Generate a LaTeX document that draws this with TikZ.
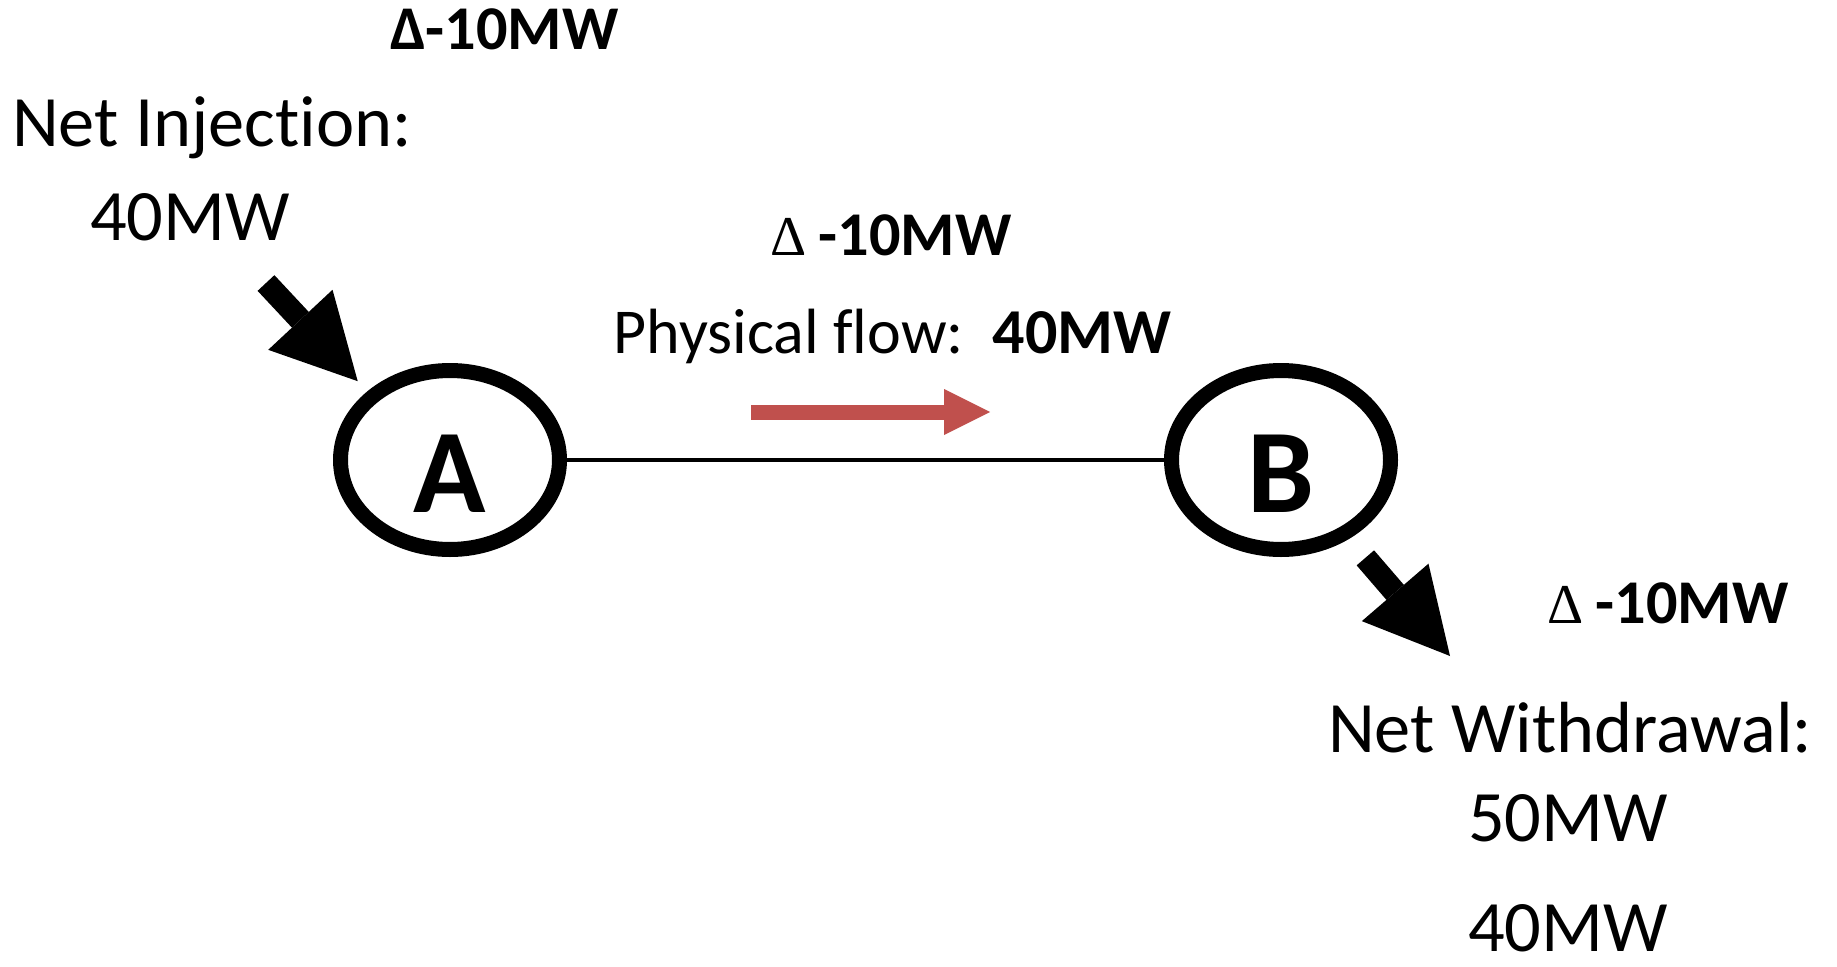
\documentclass[tikz,border=0pt]{standalone}
\usepackage{fontspec}
\setmainfont[Ligatures=NoCommon]{Carlito}
\newfontfamily\deltafont{Liberation Serif}
\usepackage{tikz}
\usetikzlibrary{arrows.meta,positioning,shapes.geometric}
\definecolor{flowred}{HTML}{C0504D}
\tikzset{
  busnode/.style={ellipse, draw, line width=1.5mm, minimum width=21.9mm,
    minimum height=17.9mm, inner sep=0pt, text height=10.4mm, text depth=0pt,
    font=\fontsize{34}{40}\selectfont\bfseries},
  lbl/.style={anchor=base, inner sep=0pt, font=\fontsize{20.6}{24}\selectfont},
  deltalbl/.style={anchor=base west, inner sep=0pt,
    font=\fontsize{17.7}{21}\selectfont\bfseries},
  flowlbl/.style={anchor=base west, inner sep=0pt,
    font=\fontsize{18.2}{22}\selectfont},
  branch/.style={line width=0.4mm},
  blockarr/.style={-{Triangle[length=8.4mm, width=8.8mm, line width=0pt]},
    line width=2.3mm},
  flowarr/.style={-{Triangle[length=4.6mm, width=4.6mm, line width=0pt]},
    line width=1.5mm, draw=flowred, fill=flowred}
}
\newcommand{\thindelta}{{\deltafont\fontsize{16}{19}\selectfont\mdseries Δ}\hspace{1.2mm}}
\begin{document}
\begin{tikzpicture}[x=0.1mm,y=-0.1mm]
  \useasboundingbox (0,0) rectangle (1837,966);
  % buses and line
  \node[busnode] (A) at (450,460) {A};
  \node[busnode] (B) at (1281,460) {B};
  \draw[branch] (A) -- (B);
  % injection at A
  \node[deltalbl] (injdelta) at (390,49) {Δ-10MW};
  \node[lbl] (injtxt) at (212,146) {Net Injection:};
  \node[lbl] (injval) at (190,240) {40MW};
  \coordinate (injtail) at (266,283);
  \draw[blockarr, shorten >=1.4mm] (injtail) -- (A.north west);
  % flow on the line
  \node[deltalbl] (flowdelta) at (770,255) {\thindelta-10MW};
  \node[flowlbl] (flowtxt) at (613,353) {Physical flow:\ \ \textbf{40MW}};
  \coordinate (flowtail) at (751,412);
  \coordinate (flowtip) at (990,412);
  \draw[flowarr] (flowtail) -- (flowtip);
  % withdrawal at B
  \coordinate (wdrtip) at (1450,656);
  \draw[blockarr, shorten <=2.5mm] (B) -- (wdrtip);
  \node[deltalbl] (wdrdelta) at (1547,623) {\thindelta-10MW};
  \node[lbl] (wdrtxt) at (1570,752) {Net Withdrawal:};
  \node[lbl] (wdrval) at (1568,841) {50MW};
  \node[lbl] (wdrold) at (1568,951) {40MW};
\end{tikzpicture}
\end{document}
